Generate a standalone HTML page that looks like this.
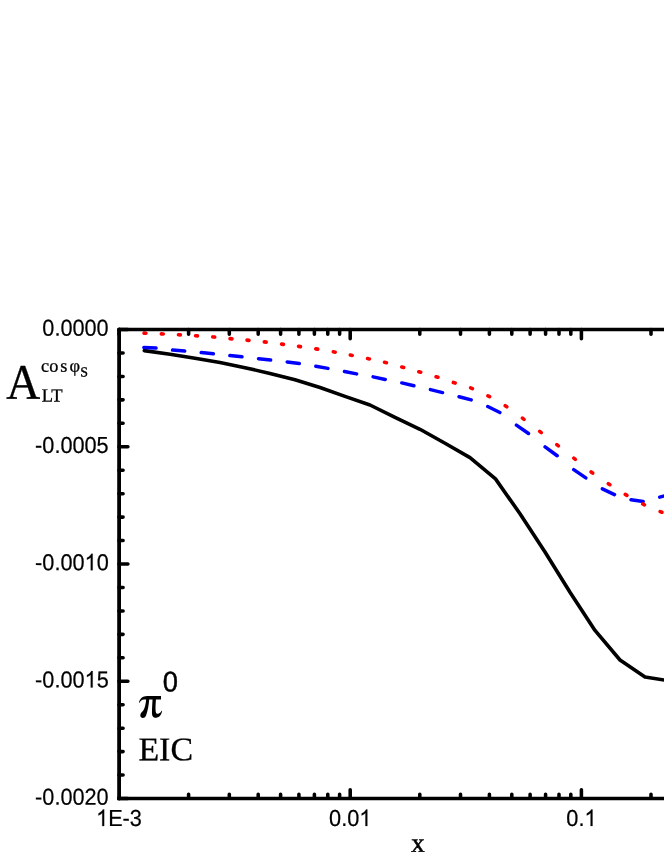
<!DOCTYPE html>
<html><head><meta charset="utf-8"><title>chart</title>
<style>html,body{margin:0;padding:0;background:#fff}body{width:664px;height:860px;position:relative;overflow:hidden;font-family:"Liberation Sans",sans-serif}</style></head>
<body>
<svg width="664" height="860" viewBox="0 0 664 860" style="position:absolute;left:0;top:0;will-change:transform">
<rect width="664" height="860" fill="#fff"/>
<path d="M144.30,350.60 L170.00,354.30 L195.00,358.30 L220.00,362.60 L245.00,367.70 L270.00,373.40 L295.00,379.80 L320.00,387.50 L345.00,396.40 L370.00,405.00 L395.00,417.40 L420.00,429.30 L445.00,443.30 L470.00,457.60 L495.50,478.90 L520.00,513.75 L545.00,552.00 L570.00,592.30 L595.00,630.40 L620.00,660.00 L645.00,677.00 L670.00,681.00" fill="none" stroke="#000" stroke-width="3.6" stroke-linejoin="round" stroke-linecap="round"/>
<path d="M143.90,347.39 L156.00,348.09 M172.56,350.04 L184.66,351.04 M201.21,352.61 L213.31,353.74 M229.87,355.61 L241.97,356.82 M258.52,358.71 L270.62,360.00 M287.18,361.96 L299.28,363.59 M315.83,366.27 L327.93,368.37 M344.49,371.45 L356.58,373.91 M373.14,376.84 L385.24,379.42 M401.79,382.91 L413.89,385.81 M430.45,389.63 L442.55,392.59 M459.10,396.72 L471.20,399.91 M487.76,406.50 L499.86,412.55 M516.41,425.13 L528.51,433.48 M545.07,446.92 L557.17,455.73 M573.72,469.66 L585.82,477.90 M602.38,488.87 L614.48,494.57 M631.03,499.72 L643.13,501.45 M659.69,497.12 L669.00,494.75" fill="none" stroke="#0000ff" stroke-width="3.5" stroke-linecap="round"/>
<path d="M144.05,333.16 L145.95,333.24 M161.35,333.86 L163.25,333.94 M178.45,334.75 L180.35,334.85 M195.55,335.74 L197.45,335.86 M212.80,336.92 L214.70,337.08 M230.05,338.66 L231.95,338.84 M247.05,340.16 L248.95,340.34 M264.31,341.89 L266.19,342.11 M281.56,344.13 L283.44,344.37 M298.56,346.37 L300.44,346.63 M315.81,348.85 L317.69,349.15 M333.32,351.83 L335.18,352.17 M350.32,355.07 L352.18,355.43 M367.57,358.55 L369.43,358.95 M384.58,362.27 L386.42,362.73 M401.83,367.00 L403.67,367.50 M418.84,371.74 L420.66,372.26 M436.09,376.72 L437.91,377.28 M453.35,382.46 L455.15,383.04 M470.62,387.90 L472.38,388.60 M487.91,395.81 L489.59,396.69 M505.20,405.73 L506.80,406.77 M522.49,418.18 L524.01,419.32 M539.75,431.42 L541.25,432.58 M556.85,444.61 L558.35,445.79 M573.86,458.11 L575.34,459.29 M591.14,471.94 L592.66,473.06 M608.31,483.68 L609.89,484.72 M625.28,494.42 L626.92,495.38 M642.75,503.98 L644.45,504.82 M660.12,511.55 L661.88,512.25" fill="none" stroke="#ff0000" stroke-width="3.6" stroke-linecap="round"/>
<g stroke="#000" stroke-width="3.8" fill="none" stroke-linecap="round" stroke-linejoin="round">
<path d="M680,329.50 H119.10 V334.50" stroke-width="3.6"/><path d="M119.10,329.50 V798.50" stroke-width="3.8"/><path d="M119.00,798.50 H680" stroke-width="3.5" stroke-linecap="square"/>
<path d="M119.00,329.50 h8.9 M119.00,352.95 h4.1 M119.00,376.40 h4.1 M119.00,399.85 h4.1 M119.00,423.30 h4.1 M119.00,446.75 h8.9 M119.00,470.20 h4.1 M119.00,493.65 h4.1 M119.00,517.10 h4.1 M119.00,540.55 h4.1 M119.00,564.00 h8.9 M119.00,587.45 h4.1 M119.00,610.90 h4.1 M119.00,634.35 h4.1 M119.00,657.80 h4.1 M119.00,681.25 h8.9 M119.00,704.70 h4.1 M119.00,728.15 h4.1 M119.00,751.60 h4.1 M119.00,775.05 h4.1 M119.00,798.50 h8.9 M188.60,329.50 v4.8 M188.60,798.20 v-4.0 M229.31,329.50 v4.8 M229.31,798.20 v-4.0 M258.20,329.50 v4.8 M258.20,798.20 v-4.0 M280.60,329.50 v4.8 M280.60,798.20 v-4.0 M298.91,329.50 v4.8 M298.91,798.20 v-4.0 M314.39,329.50 v4.8 M314.39,798.20 v-4.0 M327.79,329.50 v4.8 M327.79,798.20 v-4.0 M339.62,329.50 v4.8 M339.62,798.20 v-4.0 M350.20,329.50 v9.2 M350.20,798.20 v-8.4 M419.80,329.50 v4.8 M419.80,798.20 v-4.0 M460.51,329.50 v4.8 M460.51,798.20 v-4.0 M489.40,329.50 v4.8 M489.40,798.20 v-4.0 M511.80,329.50 v4.8 M511.80,798.20 v-4.0 M530.11,329.50 v4.8 M530.11,798.20 v-4.0 M545.59,329.50 v4.8 M545.59,798.20 v-4.0 M558.99,329.50 v4.8 M558.99,798.20 v-4.0 M570.82,329.50 v4.8 M570.82,798.20 v-4.0 M581.40,329.50 v9.2 M581.40,798.20 v-8.4 M651.00,329.50 v4.8 M651.00,798.20 v-4.0" stroke-width="3.55"/>
</g>
<g font-family='"Liberation Sans", sans-serif' font-size="21.7" fill="#000" stroke="#000" stroke-width="0.2">
<g transform="translate(42.34,335.80) rotate(0.03) scale(1,1.065)"><text x="0.00" y="0">0.0000</text></g>
<g transform="translate(35.12,453.05) rotate(0.03) scale(1,1.065)"><text x="0.00" y="0">-0.0005</text></g>
<g transform="translate(35.12,570.30) rotate(0.03) scale(1,1.065)"><text x="0.00" y="0">-0.00</text><path transform="translate(49.45,0) scale(0.01060,-0.01060)" d="M763 0H583V1147Q518 1085 412.5 1023T223 930V1104Q373 1174.5 485 1275T644 1472H763Z" stroke-width="18.9"/><text x="61.52" y="0">0</text></g>
<g transform="translate(35.12,687.55) rotate(0.03) scale(1,1.065)"><text x="0.00" y="0">-0.00</text><path transform="translate(49.45,0) scale(0.01060,-0.01060)" d="M763 0H583V1147Q518 1085 412.5 1023T223 930V1104Q373 1174.5 485 1275T644 1472H763Z" stroke-width="18.9"/><text x="61.52" y="0">5</text></g>
<g transform="translate(35.12,804.80) rotate(0.03) scale(1,1.065)"><text x="0.00" y="0">-0.0020</text></g>
<g transform="translate(96.08,826.00) rotate(0.03) scale(1,1.065)"><path transform="translate(0.00,0) scale(0.01060,-0.01060)" d="M763 0H583V1147Q518 1085 412.5 1023T223 930V1104Q373 1174.5 485 1275T644 1472H763Z" stroke-width="18.9"/><text x="12.07" y="0">E-3</text></g>
<g transform="translate(329.09,826.00) rotate(0.03) scale(1,1.065)"><text x="0.00" y="0">0.0</text><path transform="translate(30.16,0) scale(0.01060,-0.01060)" d="M763 0H583V1147Q518 1085 412.5 1023T223 930V1104Q373 1174.5 485 1275T644 1472H763Z" stroke-width="18.9"/></g>
<g transform="translate(566.32,826.00) rotate(0.03) scale(1,1.065)"><text x="0.00" y="0">0.</text><path transform="translate(18.10,0) scale(0.01060,-0.01060)" d="M763 0H583V1147Q518 1085 412.5 1023T223 930V1104Q373 1174.5 485 1275T644 1472H763Z" stroke-width="18.9"/></g>
</g>
<g font-family='"Liberation Serif", serif' fill="#000" stroke="#000" stroke-width="0.3">
<text transform="translate(411.20,851.70) rotate(0.03) scale(1,1.000)" font-size="26.80" stroke-width="0.5">x</text>
<text transform="translate(6.30,398.70) rotate(0.03) scale(1,1.060)" font-size="47.00" >A</text>
<text transform="translate(41.70,401.50) rotate(0.03) scale(1,1.000)" font-size="18.50" >LT</text>
<text transform="translate(41.00,371.80) rotate(0.03) scale(1,1.000)" font-size="18.30" >c</text>
<text transform="translate(49.20,371.80) rotate(0.03) scale(1,1.000)" font-size="18.30" >o</text>
<text transform="translate(60.20,371.80) rotate(0.03) scale(1,1.000)" font-size="18.30" >s</text>
<text transform="translate(69.50,371.80) rotate(0.03) scale(1,1.000)" font-size="18.30" >φ</text>
<text transform="translate(80.20,376.50) rotate(0.03) scale(1,1.000)" font-size="13.90" >S</text>
<text transform="translate(138.40,760.20) rotate(0.03) scale(1,0.975)" font-size="33.90" >EIC</text>
</g>
<path transform="translate(132,665) scale(0.0753)" d="M92 497C105 450 140 412 200 412L385 412L385 458L318 458C314 510 310 570 314 615C317 645 335 655 355 645C372 637 385 625 392 608L400 612C395 650 365 702 320 702C280 702 264 675 265 630C266 570 270 510 273 458L228 458C224 530 210 600 190 660C180 690 165 703 145 703C122 703 108 688 110 665C112 640 135 625 150 605C170 575 182 520 188 458L160 458C130 458 112 475 100 500Z" fill="#000"/>
<text transform="translate(162.7,691.5) rotate(0.03) scale(1,1.05)" font-size="27.3" font-family='"Liberation Sans", sans-serif' fill="#000" stroke="#000" stroke-width="0.45">0</text>
</svg>
</body></html>
